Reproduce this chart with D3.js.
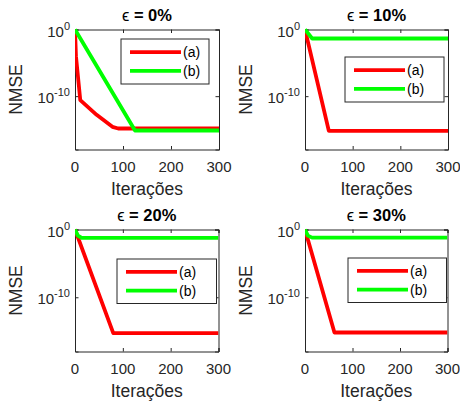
<!DOCTYPE html>
<html><head><meta charset="utf-8">
<script src="https://cdn.jsdelivr.net/npm/d3@7"></script>
<style>
html,body{margin:0;padding:0;background:#fff;}
svg{display:block;font-family:"Liberation Sans",Arial,Helvetica,sans-serif;}
</style></head>
<body>
<svg id="chart" width="460" height="403"></svg>
<script>
// ---- data ----
const panelTitles = ["0%", "10%", "20%", "30%"];
const seriesNames = ["(a)", "(b)"];
const xTicks = [0, 100, 200, 300];
const yTickExps = [0, -10];
// each series: [iteration, log10(NMSE)]
const eps0_a = [[0,0],[2,-4],[11,-10.6],[45,-12.8],[78,-14.6],[90,-14.85],[300,-14.85]];
const eps0_b = [[0,0],[125,-15.15],[300,-15.15]];
const eps10_a = [[0,0],[50,-15.2],[300,-15.2]];
const eps10_b = [[0,0],[15,-1.35],[300,-1.35]];
const eps20_a = [[0,0],[80,-15.3],[300,-15.3]];
const eps20_b = [[0,0],[6,-0.9],[14,-1.25],[300,-1.25]];
const eps30_a = [[0,0],[62,-15.2],[300,-15.2]];
const eps30_b = [[0,0],[6,-0.9],[15,-1.2],[300,-1.2]];

const panels = [
  {title: panelTitles[0], a: eps0_a, b: eps0_b, box:[75,29.5,219,149.5], leg:[121,39,209,84]},
  {title: panelTitles[1], a: eps10_a, b: eps10_b, box:[305,29.5,448,149.5], leg:[345,57,444,102]},
  {title: panelTitles[2], a: eps20_a, b: eps20_b, box:[75,229.5,218.5,351.5], leg:[117,259,216.5,303.5]},
  {title: panelTitles[3], a: eps30_a, b: eps30_b, box:[305,229.5,447.5,351.5], leg:[348,258,446.5,302.5]}
];
const colors = ["#ff0000", "#00ff00"];
const axisColor = "#262626";

const svg = d3.select("#chart");

panels.forEach((p, i) => {
  const [x0, y0, x1, y1] = p.box;
  const x = d3.scaleLinear().domain([0, 300]).range([x0, x1]);
  const y = d3.scaleLog().domain([1e-18, 1]).range([y1, y0]);
  const g = svg.append("g");

  const clipId = "clip" + i;
  g.append("clipPath").attr("id", clipId).append("rect")
    .attr("x", x0).attr("y", y0 - 2).attr("width", x1 - x0).attr("height", y1 - y0 + 2);

  // axes with inward ticks
  const xb = d3.axisBottom(x).tickValues(xTicks).tickSize(-3.5).tickFormat("");
  const xt = d3.axisTop(x).tickValues(xTicks).tickSize(-3.5).tickFormat("");
  const yl = d3.axisLeft(y).tickValues(yTickExps.map(e => Math.pow(10, e))).tickSize(-3.5).tickFormat("");
  const yr = d3.axisRight(y).tickValues(yTickExps.map(e => Math.pow(10, e))).tickSize(-3.5).tickFormat("");
  [[xb, `translate(0,${y1})`], [xt, `translate(0,${y0})`], [yl, `translate(${x0},0)`], [yr, `translate(${x1},0)`]]
    .forEach(([ax, tr]) => {
      const a = g.append("g").attr("transform", tr).call(ax);
      a.selectAll("path.domain").attr("stroke", axisColor).attr("stroke-width", 1);
      a.selectAll(".tick line").attr("stroke", axisColor).attr("stroke-width", 1);
    });

  // x tick labels
  g.append("g").selectAll("text").data(xTicks).join("text")
    .attr("x", d => x(d)).attr("y", y1 + 22)
    .attr("text-anchor", "middle").attr("font-size", 15).attr("fill", axisColor)
    .text(d => d);

  // y tick labels 10^e
  yTickExps.forEach(e => {
    const t = g.append("text").attr("x", x0 - 5).attr("y", y(Math.pow(10, e)) + 7)
      .attr("text-anchor", "end").attr("fill", axisColor).attr("font-size", 15);
    t.append("tspan").text("10");
    t.append("tspan").attr("dy", -7).attr("font-size", 11).text(String(e));
  });

  // axis labels
  g.append("text").attr("x", (x0 + x1) / 2).attr("y", y1 + 45)
    .attr("text-anchor", "middle").attr("font-size", 17.5).attr("fill", axisColor)
    .text("Iterações");
  g.append("text")
    .attr("transform", `translate(${x0 - 53},${(y0 + y1) / 2}) rotate(-90)`)
    .attr("text-anchor", "middle").attr("font-size", 17.5).attr("fill", axisColor)
    .text("NMSE");

  // title
  const tt = g.append("text").attr("x", (x0 + x1) / 2).attr("y", y0 - 9)
    .attr("text-anchor", "middle").attr("font-size", 16.5).attr("fill", "#000");
  tt.append("tspan").text("ϵ");
  tt.append("tspan").attr("font-weight", "bold").text(" = " + p.title);

  // lines
  const line = d3.line().x(d => x(d[0])).y(d => y(Math.pow(10, d[1])));
  [p.a, p.b].forEach((s, k) => {
    g.append("path").datum(s).attr("d", line)
      .attr("fill", "none").attr("stroke", colors[k]).attr("stroke-width", 3.8)
      .attr("stroke-linejoin", "round").attr("clip-path", `url(#${clipId})`);
  });

  // legend
  const [lx0, ly0, lx1, ly1] = p.leg;
  g.append("rect").attr("x", lx0).attr("y", ly0).attr("width", lx1 - lx0).attr("height", ly1 - ly0)
    .attr("fill", "#fff").attr("stroke", axisColor).attr("stroke-width", 1);
  const rowH = (ly1 - ly0);
  seriesNames.forEach((nm, k) => {
    const yy = ly0 + rowH * (k === 0 ? 0.29 : 0.71);
    g.append("line").attr("x1", lx0 + 9).attr("x2", lx0 + 60).attr("y1", yy).attr("y2", yy)
      .attr("stroke", colors[k]).attr("stroke-width", 3.8);
    g.append("text").attr("x", lx0 + 62).attr("y", yy + 5)
      .attr("font-size", 14).attr("fill", "#000").text(nm);
  });
});
</script>
</body></html>
